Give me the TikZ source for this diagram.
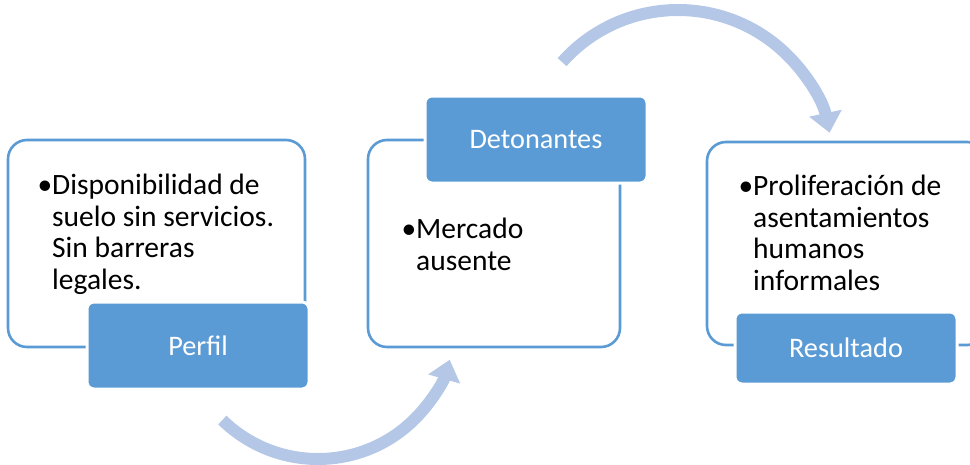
\documentclass[tikz,border=0pt]{standalone}
\usepackage{fontspec}
\setmainfont{Carlito}
\usetikzlibrary{arrows.meta}
\definecolor{accent}{HTML}{5B9BD5}
\definecolor{arrowblue}{HTML}{B4C7E7}
\begin{document}
\begin{tikzpicture}[x=1pt,y=-1pt,
  panel/.style={draw=accent, line width=2.6pt, rounded corners=19pt, fill=white, inner sep=0pt},
  tag/.style={fill=accent, draw=white, line width=3pt, rounded corners=7pt, text=white, inner sep=0pt,
     font=\fontsize{28.3}{31.5}\selectfont},
  body/.style={align=left, font=\fontsize{29.5}{31.5}\selectfont, anchor=base west, inner sep=0pt},
  flow/.style={draw=arrowblue, line width=12pt, -{Triangle[width=32pt,length=20pt]}}]
\useasboundingbox (0,0) rectangle (970,464);
% panels
\node[panel, minimum width=297pt, minimum height=207pt] (p1) at (156.5,243.5) {};
\node[panel, minimum width=252pt, minimum height=207pt] (p2) at (494,243.5) {};
\node[panel, minimum width=279pt, minimum height=203pt] (p3) at (846.5,243.5) {};
% body texts (anchor = baseline of last line)
\node[body] (t1) at (52,289) {\llap{•}Disponibilidad de\\suelo sin servicios.\\Sin barreras\\legales.};
\node[body] (t2) at (416,270) {\llap{•}Mercado\\ausente};
\node[body] (t3) at (753,290) {\llap{•}Proliferación de\\asentamientos\\humanos\\informales};
% tags
\node[tag, minimum width=222pt, minimum height=87pt] (l1) at (198,345.5) {Perfil};
\node[tag, minimum width=222pt, minimum height=87pt] (l2) at (536,139.5) {Detonantes};
\node[tag, minimum width=222pt, minimum height=72pt] (l3) at (846,348) {Resultado};
% arrows
\draw[flow] (318,322) ++(134.3:137) arc[start angle=134.3, end angle=16, radius=137];
\draw[flow] (678,165) ++(-138.4:155) arc[start angle=-138.4, end angle=-12, radius=155];
\end{tikzpicture}
\end{document}
